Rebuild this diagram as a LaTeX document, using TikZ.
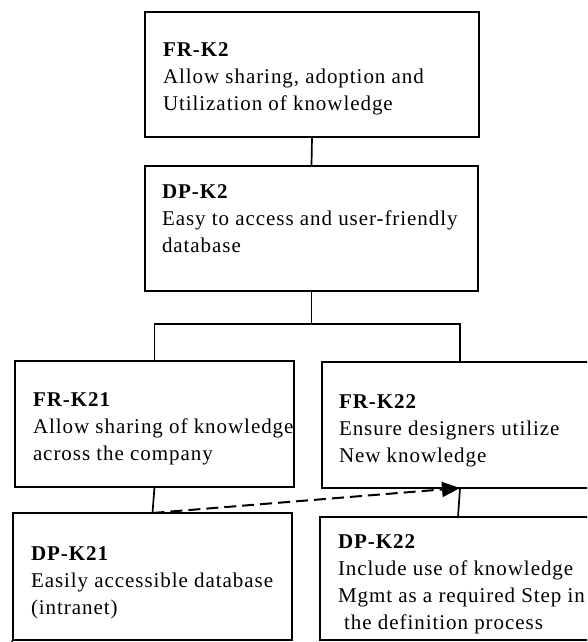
\documentclass[tikz,border=0pt]{standalone}
\usepackage{fontspec}
\setmainfont{Liberation Serif}[LetterSpace=4.5]
\usetikzlibrary{arrows.meta}
\begin{document}
\begin{tikzpicture}[x=1pt,y=-1pt,
  box/.style={draw, line width=2pt, rectangle, anchor=north west,
    inner sep=0pt, outer sep=0pt},
  txt/.style={anchor=north west, inner sep=0pt, outer sep=0pt, align=left,
    font=\fontsize{21}{27}\selectfont},
  link/.style={line width=1.7pt},
  dashlink/.style={line width=2pt, dash pattern=on 12pt off 6pt,
    -{Triangle[length=18pt,width=15pt]}}]
\useasboundingbox (0,0) rectangle (587,642);
\clip (0,0) rectangle (587,642);

% boxes
\node[box, minimum width=334pt, minimum height=125pt] (frk2)  at (145,12)  {};
\node[box, minimum width=333pt, minimum height=125pt] (dpk2)  at (145,166) {};
\node[box, minimum width=279pt, minimum height=126pt] (frk21) at (15,361)  {};
\node[box, minimum width=276pt, minimum height=126pt] (frk22) at (322,362) {};
\node[box, minimum width=279pt, minimum height=127pt] (dpk21) at (13,513)  {};
\node[box, minimum width=276pt, minimum height=123pt] (dpk22) at (320,517) {};

% texts (first baseline = y + 20)
\node[txt] (tfrk2) at (163,36) {\rule{0pt}{20pt}\textbf{FR-K2}\\
  Allow sharing, adoption and\\Utilization of knowledge};
\node[txt] (tdpk2) at (162,178) {\rule{0pt}{20pt}\textbf{DP-K2}\\
  Easy to access and user-friendly\\database};
\node[txt] (tfrk21) at (33,386) {\rule{0pt}{20pt}\textbf{FR-K21}\\
  Allow sharing of knowledge\\across the company};
\node[txt] (tfrk22) at (339,388) {\rule{0pt}{20pt}\textbf{FR-K22}\\
  Ensure designers utilize\\New knowledge};
\node[txt] (tdpk21) at (31,540) {\rule{0pt}{20pt}\textbf{DP-K21}\\
  Easily accessible database\\(intranet)};
\node[txt] (tdpk22) at (338,528) {\rule{0pt}{20pt}\textbf{DP-K22}\\
  Include use of knowledge\\Mgmt as a required Step in\\~the definition process};

% tree connectors
\coordinate (bar) at (dpk2.south |- 0,324);
\draw[link] (frk2.south) -- (dpk2.north);
\draw[link] (dpk2.south) -- (bar);
\draw[link] (frk21.north) |- (bar) -| (frk22.north);
\draw[link] (frk21.south) -- (dpk21.north);
\draw[link] (frk22.south) -- (dpk22.north);

% dashed dependency
\draw[dashlink] (dpk21.north) -- (frk22.south);

% small stroke at the lower left corner
\draw[line width=1.2pt] (dpk21.south west) -- ++(-3,4);
\end{tikzpicture}
\end{document}
